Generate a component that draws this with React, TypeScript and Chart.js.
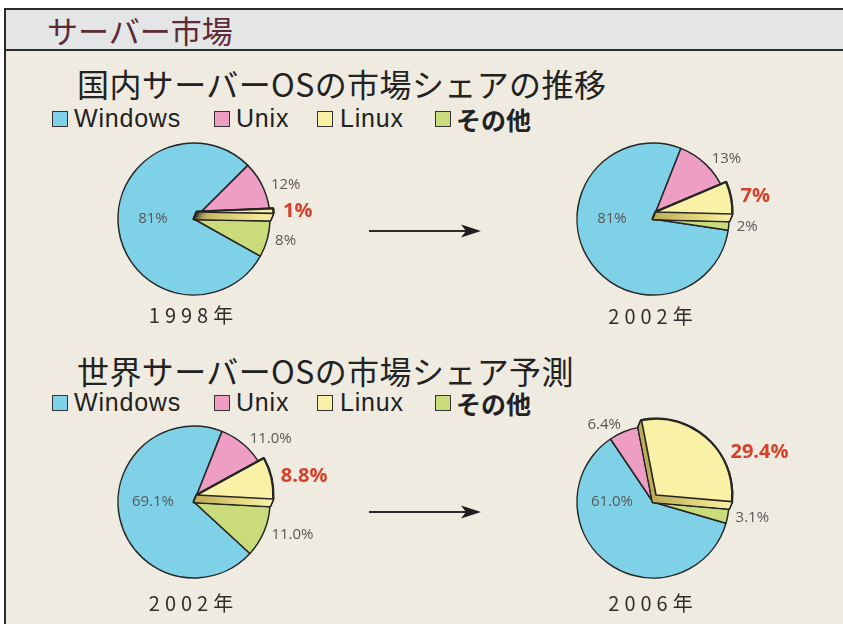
import React, { useEffect, useRef } from 'react';
import { Chart, registerables } from 'chart.js';

Chart.register(...registerables);

// ---------- data ----------
const categories = ['Windows', 'Unix', 'Linux', 'その他'];
const sliceColors = ['#7fd1e7', '#ee9dc5', '#f9f2a6', '#cadb7b'];
const domestic1998 = [81, 12, 1, 8];
const domestic2002 = [81, 13, 7, 2];
const world2002 = [69.1, 11.0, 8.8, 11.0];
const world2006 = [61.0, 6.4, 29.4, 3.1];
const years = ['1998年', '2002年', '2002年', '2006年'];
const pageTitle = 'サーバー市場';
const headingDomestic = '国内サーバーOSの市場シェアの推移';
const headingWorld = '世界サーバーOSの市場シェア予測';
const highlightIndex = 2; // Linux

const EDGE = '#262626';

const piePlugin = {
  id: 'pieDecor',
  afterDatasetsDraw(chart: any, _args: any, opts: any) {
    const ctx: CanvasRenderingContext2D = chart.ctx;
    const meta = chart.getDatasetMeta(0);
    const arcs = meta.data as any[];
    const hi = opts.highlight;
    const p = arcs[hi].getProps(['x', 'y', 'startAngle', 'endAngle', 'outerRadius'], true);
    const { x, y, startAngle, endAngle, outerRadius: r } = p;
    const [dx, dy] = opts.lift;
    const steps = 20;
    const path = (ox: number, oy: number) => {
      ctx.beginPath();
      ctx.moveTo(x + ox, y + oy);
      ctx.arc(x + ox, y + oy, r, startAngle, endAngle);
      ctx.closePath();
    };
    ctx.save();
    ctx.lineJoin = 'round';
    ctx.strokeStyle = EDGE;
    ctx.lineWidth = 3;
    for (let i = 0; i <= steps; i++) {
      path((dx * i) / steps, (dy * i) / steps);
      ctx.stroke();
    }
    const grad = ctx.createLinearGradient(x, 0, x + r, 0);
    grad.addColorStop(0, '#bcab58');
    grad.addColorStop(0.6, '#e6d67c');
    grad.addColorStop(1, '#f8f0a4');
    ctx.fillStyle = grad;
    for (let i = 0; i <= steps; i++) {
      path((dx * i) / steps, (dy * i) / steps);
      ctx.fill();
    }
    path(dx, dy);
    ctx.fillStyle = sliceColors[hi];
    ctx.fill();
    ctx.lineWidth = 1.6;
    ctx.stroke();
    ctx.restore();

    // labels
    const values = chart.data.datasets[0].data as number[];
    ctx.save();
    ctx.textBaseline = 'middle';
    arcs.forEach((arc: any, i: number) => {
      const a = arc.getProps(['x', 'y', 'startAngle', 'endAngle', 'outerRadius'], true);
      let mid = (a.startAngle + a.endAngle) / 2;
      mid = Math.atan2(Math.sin(mid), Math.cos(mid));
      const text = values[i].toFixed(opts.decimals) + '%';
      if (i === 0) {
        ctx.font = '15px "Open Sans"';
        ctx.fillStyle = '#585858';
        ctx.textAlign = 'center';
        ctx.fillText(text, a.x - a.outerRadius * 0.54, a.y);
        return;
      }
      let px: number, py: number;
      if (i === hi) {
        const lim = (30 * Math.PI) / 180;
        const ang = Math.max(-lim, Math.min(lim, mid));
        px = a.x + Math.cos(ang) * (a.outerRadius + 10) + dx;
        py = a.y + Math.sin(ang) * (a.outerRadius + 10) + dy;
        ctx.font = 'bold 20px "Open Sans"';
        ctx.fillStyle = '#d8402a';
        ctx.textAlign = Math.cos(ang) >= 0 ? 'left' : 'right';
      } else {
        px = a.x + Math.cos(mid) * (a.outerRadius + 8);
        py = a.y + Math.sin(mid) * (a.outerRadius + 8);
        ctx.font = '15px "Open Sans"';
        ctx.fillStyle = '#585858';
        ctx.textAlign = Math.cos(mid) >= 0 ? 'left' : 'right';
      }
      ctx.fillText(text, px, py);
    });
    ctx.restore();
  },
};

const CW = 320;
const CH = 220;

function Pie({ values, decimals, linuxEnd, cx, cy }: { values: number[]; decimals: number; linuxEnd: number; cx: number; cy: number }) {
  const ref = useRef<HTMLCanvasElement | null>(null);
  useEffect(() => {
    if (!ref.current) return;
    const total = values.reduce((s, v) => s + v, 0);
    const otherSweep = (360 * values[3]) / total;
    const chart = new Chart(ref.current, {
      type: 'pie',
      data: {
        labels: categories,
        datasets: [
          {
            data: values,
            backgroundColor: sliceColors,
            borderColor: EDGE,
            borderWidth: 1.5,
          },
        ],
      },
      options: {
        animation: false,
        responsive: false,
        maintainAspectRatio: false,
        radius: 76,
        rotation: linuxEnd + otherSweep + 90,
        events: [],
        layout: { padding: 0 },
        plugins: {
          legend: { display: false },
          tooltip: { enabled: false },
          // @ts-ignore
          pieDecor: { highlight: highlightIndex, lift: [3, -7], decimals },
        },
      } as any,
      plugins: [piePlugin as any],
    });
    return () => chart.destroy();
  }, []);
  return (
    <canvas
      ref={ref}
      width={CW}
      height={CH}
      style={{ position: 'absolute', left: cx - CW / 2, top: cy - CH / 2, width: CW, height: CH }}
    />
  );
}

const legendText: React.CSSProperties = {
  position: 'absolute',
  fontFamily: '"Liberation Sans", Arial, sans-serif',
  fontSize: 25,
  lineHeight: '24px',
  color: '#222',
  letterSpacing: 0.8,
  whiteSpace: 'nowrap',
};

function Legend({ top }: { top: number }) {
  const items = [
    { sq: 52, tx: 74 },
    { sq: 214, tx: 236 },
    { sq: 317, tx: 340 },
    { sq: 435, tx: 456 },
  ];
  return (
    <>
      {categories.map((c, i) => (
        <React.Fragment key={c}>
          <div
            style={{
              position: 'absolute',
              left: items[i].sq,
              top: top + 5,
              width: 14,
              height: 14,
              background: sliceColors[i],
              border: '1.3px solid #333',
            }}
          />
          <div
            style={
              i === 3
                ? { ...legendText, left: items[i].tx, top: top + 1, fontFamily: '"Noto Sans CJK JP", sans-serif', fontWeight: 700, fontSize: 25, letterSpacing: 0 }
                : { ...legendText, left: items[i].tx, top }
            }
          >
            {c}
          </div>
        </React.Fragment>
      ))}
    </>
  );
}

const headingStyle: React.CSSProperties = {
  position: 'absolute',
  left: 77,
  fontFamily: '"Noto Sans CJK JP", sans-serif',
  fontSize: 32,
  lineHeight: '32px',
  letterSpacing: 0.4,
  color: '#222',
  whiteSpace: 'nowrap',
};

const yearStyle: React.CSSProperties = {
  position: 'absolute',
  width: 160,
  textAlign: 'center',
  fontFamily: '"Noto Sans CJK JP", sans-serif',
  fontSize: 20,
  lineHeight: '20px',
  letterSpacing: 5,
  color: '#2e2e2e',
};

function Arrow({ y }: { y: number }) {
  return (
    <svg style={{ position: 'absolute', left: 360, top: y - 10, width: 130, height: 20 }} width={130} height={20}>
      <line x1={9} y1={10} x2={110} y2={10} stroke="#2a2a2a" strokeWidth={1.8} />
      <polygon points="121,10 101,3.5 106,10 101,16.5" fill="#1e1e1e" />
    </svg>
  );
}

export default function App() {
  const pies = [
    { values: domestic1998, decimals: 0, linuxEnd: 1, cx: 193.5, cy: 219 },
    { values: domestic2002, decimals: 0, linuxEnd: 1.5, cx: 653, cy: 219 },
    { values: world2002, decimals: 1, linuxEnd: 3, cx: 193.5, cy: 502 },
    { values: world2006, decimals: 1, linuxEnd: 5, cx: 653, cy: 502 },
  ];
  const yearTops = [305, 306, 593, 593];
  return (
    <div style={{ position: 'absolute', left: 0, top: 0, width: 843, height: 624, overflow: 'hidden', background: '#fff' }}>
      <div
        style={{
          position: 'absolute',
          left: 4,
          top: 8,
          width: 843,
          height: 624,
          background: '#efebe1',
          borderTop: '2px solid #2b2b2b',
          borderLeft: '2px solid #2b2b2b',
        }}
      />
      <div
        style={{
          position: 'absolute',
          left: 6,
          top: 10,
          width: 843,
          height: 39,
          background: '#e4e5e6',
          borderBottom: '2px solid #2b2b2b',
        }}
      />
      <div
        style={{
          position: 'absolute',
          left: 47,
          top: 10,
          fontFamily: '"Noto Sans CJK JP", sans-serif',
          fontSize: 31,
          lineHeight: '40px',
          color: '#5c2b36',
          whiteSpace: 'nowrap',
        }}
      >
        {pageTitle}
      </div>
      <div style={{ ...headingStyle, top: 67 }}>{headingDomestic}</div>
      <Legend top={106} />
      <div style={{ ...headingStyle, top: 354 }}>{headingWorld}</div>
      <Legend top={390} />
      {pies.map((p, i) => (
        <Pie key={i} {...p} />
      ))}
      {pies.map((p, i) => (
        <div key={'y' + i} style={{ ...yearStyle, left: p.cx - 80, top: yearTops[i] }}>
          {years[i]}
        </div>
      ))}
      <Arrow y={231} />
      <Arrow y={512} />
    </div>
  );
}
